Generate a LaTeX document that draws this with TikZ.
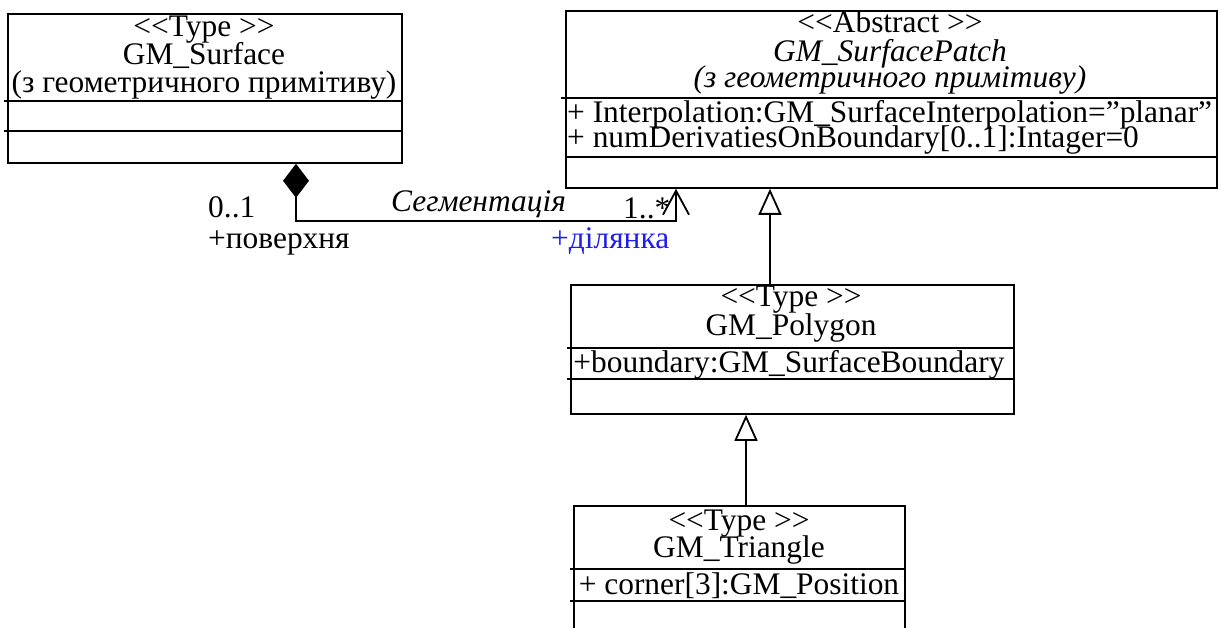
\documentclass[tikz,border=0pt]{standalone}
\usepackage{fontspec}
\setmainfont{Liberation Serif}
\usetikzlibrary{arrows.meta, positioning}
\newcommand\stOpen{<\kern0pt<}
\newcommand\stClose{>\kern0pt>}
\definecolor{roleblue}{RGB}{30,30,235}

\tikzset{
  cls/.style={draw, line width=1.8pt, inner sep=0pt, anchor=north west},
  sep/.style={line width=1.8pt},
  txt/.style={anchor=base, inner sep=0pt, font=\fontsize{31.4}{27}\selectfont},
  role/.style={anchor=base west, inner sep=0pt, font=\fontsize{31.4}{27}\selectfont},
  gen/.style={line width=1.8pt, -{Triangle[open, length=26pt, width=23pt]}},
  assoc/.style={line width=1.8pt, {Diamond[length=34pt, width=26pt]}-{Straight Barb[length=24pt, width=26pt]}}
}

\begin{document}
\begin{tikzpicture}[x=1pt, y=-1pt]
	\useasboundingbox (0,0) rectangle (1221,628);
	\clip (0,0) rectangle (1221,628);

	% class boxes
	\node[cls, minimum width=394pt, minimum height=149pt] (surf) at (7,13) {};
	\node[cls, minimum width=651pt, minimum height=177pt] (patch) at (565,10) {};
	\node[cls, minimum width=443pt, minimum height=129pt] (poly) at (570,284) {};
	\node[cls, minimum width=331pt, minimum height=200pt] (tri) at (573,505) {};

	\draw[sep] (4,101) -- (401,101) (4,131) -- (401,131);
	\draw[sep] (561,98) -- (1216,98) (565,157) -- (1216,157);
	\draw[sep] (567,348) -- (1015,348) (567,379) -- (1015,379);
	\draw[sep] (570,569) -- (906,569) (570,601) -- (906,601);

	% GM_Surface
	\node[txt] (surfSt) at (204,37) {\stOpen Type \stClose};
	\node[txt] (surfNm) at (204,65) {GM\_Surface};
	\node[txt] (surfSrc) at (204,93) {(з геометричного примітиву)};

	% GM_SurfacePatch
	\node[txt] (patchSt) at (890,33) {\stOpen Abstract \stClose};
	\node[txt] (patchNm) at (890,62) {\itshape GM\_SurfacePatch};
	\node[txt] (patchSrc) at (890,88) {\itshape (з геометричного примітиву)};
	\node[role] (patchA1) at (567,123) {+ Interpolation:GM\_SurfaceInterpolation=”planar”};
	\node[role] (patchA2) at (567,148) {+ numDerivatiesOnBoundary[0..1]:Intager=0};

	% GM_Polygon
	\node[txt] (polySt) at (791,307) {\stOpen Type \stClose};
	\node[txt] (polyNm) at (791,335) {GM\_Polygon};
	\node[txt] (polyA1) at (789,372) {+boundary:GM\_SurfaceBoundary};

	% GM_Triangle
	\node[txt] (triSt) at (739,530) {\stOpen Type \stClose};
	\node[txt] (triNm) at (739,557) {GM\_Triangle};
	\node[txt] (triA1) at (739,594) {+ corner[3]:GM\_Position};

	% connectors
	\coordinate (segL) at (296,221);
	\coordinate (segR) at (676,221);
	\coordinate (g1) at (770,0);
	\coordinate (g2) at (746,0);

	\draw[assoc] (surf.south -| segL) -- (segL) -- (segR) -- (patch.south -| segR);
	\draw[gen] (poly.north -| g1) -- (patch.south -| g1);
	\draw[gen] (tri.north -| g2) -- (poly.south -| g2);

	\node[role] (mulL) at (208,218) {0..1};
	\node[role] (roleL) at (208,249) {+поверхня};
	\node[role] (segName) at (391,212) {\itshape Сегментація};
	\node[role] (mulR) at (623,219) {1..*};
	\node[role, text=roleblue] (roleR) at (551,249) {+ділянка};
\end{tikzpicture}
\end{document}
